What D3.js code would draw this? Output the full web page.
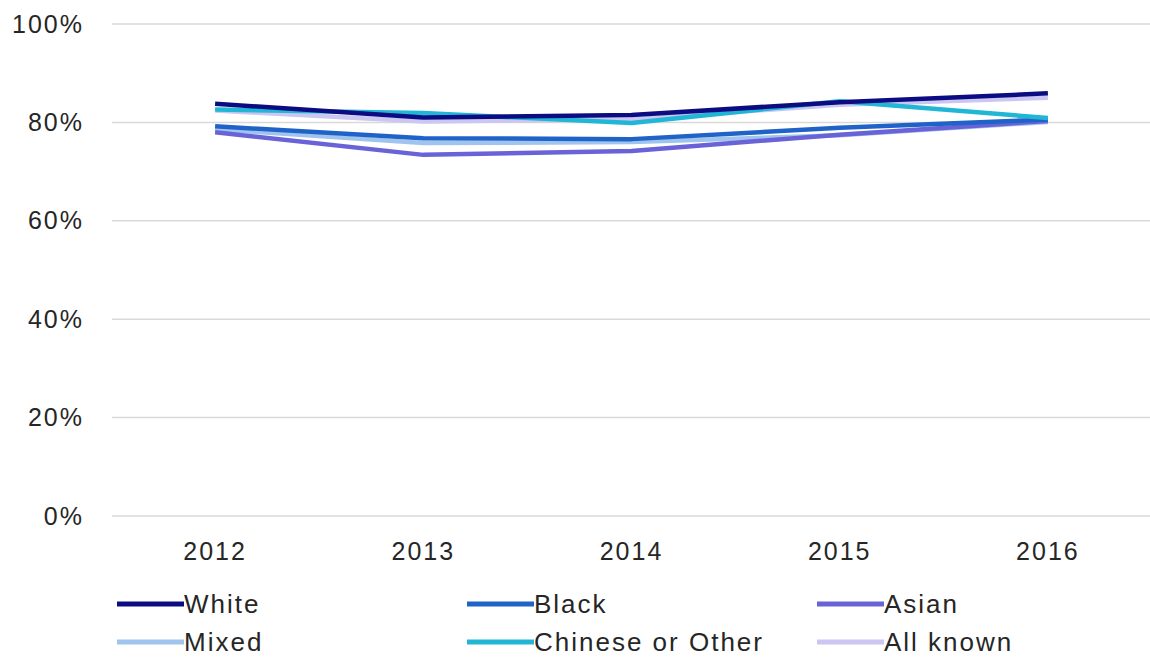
<!DOCTYPE html>
<html>
<head>
<meta charset="utf-8">
<script src="https://cdn.jsdelivr.net/npm/d3@7/dist/d3.min.js"></script>
<style>
  html, body { margin: 0; padding: 0; background: #ffffff; }
  svg text { font-family: "Liberation Sans", Arial, sans-serif; fill: #262626; }
</style>
</head>
<body>
<svg id="chart" width="1150" height="657"></svg>
<script>
const years = ["2012", "2013", "2014", "2015", "2016"];
const yTicks = [0, 20, 40, 60, 80, 100];

const seriesNames = ["White", "Black", "Asian", "Mixed", "Chinese or Other", "All known"];
const seriesColors = ["#0c0c82", "#1f63c9", "#6a63d8", "#9fc5ee", "#22b6d6", "#cbc6f2"];

const white = [83.8, 81.0, 81.5, 84.1, 85.9];
const black = [79.2, 76.8, 76.6, 78.9, 80.6];
const asian = [78.0, 73.4, 74.2, 77.5, 80.3];
const mixed = [78.6, 75.8, 76.0, 77.4, 80.1];
const chineseOther = [82.6, 81.9, 79.9, 84.3, 80.9];
const allKnown = [82.4, 80.2, 80.6, 83.6, 85.0];

const seriesValues = [white, black, asian, mixed, chineseOther, allKnown];
// draw order (back to front)
const drawOrder = [5, 3, 2, 1, 4, 0];

const svg = d3.select("#chart");

const x = d3.scaleBand().domain(years).range([111, 1152]);
const y = d3.scaleLinear().domain([0, 100]).range([516, 24]);

// gridlines
svg.append("g")
  .selectAll("line")
  .data(yTicks)
  .join("line")
  .attr("x1", 112)
  .attr("x2", 1150)
  .attr("y1", d => y(d))
  .attr("y2", d => y(d))
  .attr("stroke", "#d9d9d9")
  .attr("stroke-width", 1.5);

// y axis labels
const yAxis = d3.axisLeft(y).tickValues(yTicks).tickFormat(d => d + "%").tickSize(0).tickPadding(0);
const yg = svg.append("g").attr("transform", "translate(84,0)").call(yAxis);
yg.select(".domain").remove();
yg.selectAll("text")
  .attr("font-size", 25)
  .attr("letter-spacing", 2)
  .attr("font-family", "Liberation Sans, Arial, sans-serif")
  .attr("fill", "#262626");

// x axis labels
const xAxis = d3.axisBottom(x).tickSize(0).tickPadding(0);
const xg = svg.append("g").attr("transform", "translate(0,542)").call(xAxis);
xg.select(".domain").remove();
xg.selectAll("text")
  .attr("font-size", 25)
  .attr("letter-spacing", 2)
  .attr("font-family", "Liberation Sans, Arial, sans-serif")
  .attr("fill", "#262626");

// lines
const line = d3.line()
  .x((d, i) => x(years[i]) + x.bandwidth() / 2)
  .y(d => y(d));

svg.append("g")
  .selectAll("path")
  .data(drawOrder)
  .join("path")
  .attr("d", i => line(seriesValues[i]))
  .attr("fill", "none")
  .attr("stroke", i => seriesColors[i])
  .attr("stroke-width", 4.5)
  .attr("stroke-linejoin", "round");

// legend
const legendCols = [117, 467, 817];
const legendRows = [604, 642];
const leg = svg.append("g")
  .selectAll("g")
  .data(seriesNames)
  .join("g")
  .attr("transform", (d, i) => `translate(${legendCols[i % 3]},${legendRows[Math.floor(i / 3)]})`);

leg.append("line")
  .attr("x1", 0).attr("x2", 67)
  .attr("y1", 0).attr("y2", 0)
  .attr("stroke", (d, i) => seriesColors[i])
  .attr("stroke-width", 5);

leg.append("text")
  .attr("x", 67)
  .attr("y", 0)
  .attr("dy", "0.35em")
  .attr("font-size", 26)
  .attr("letter-spacing", 2)
  .text(d => d);
</script>
</body>
</html>
